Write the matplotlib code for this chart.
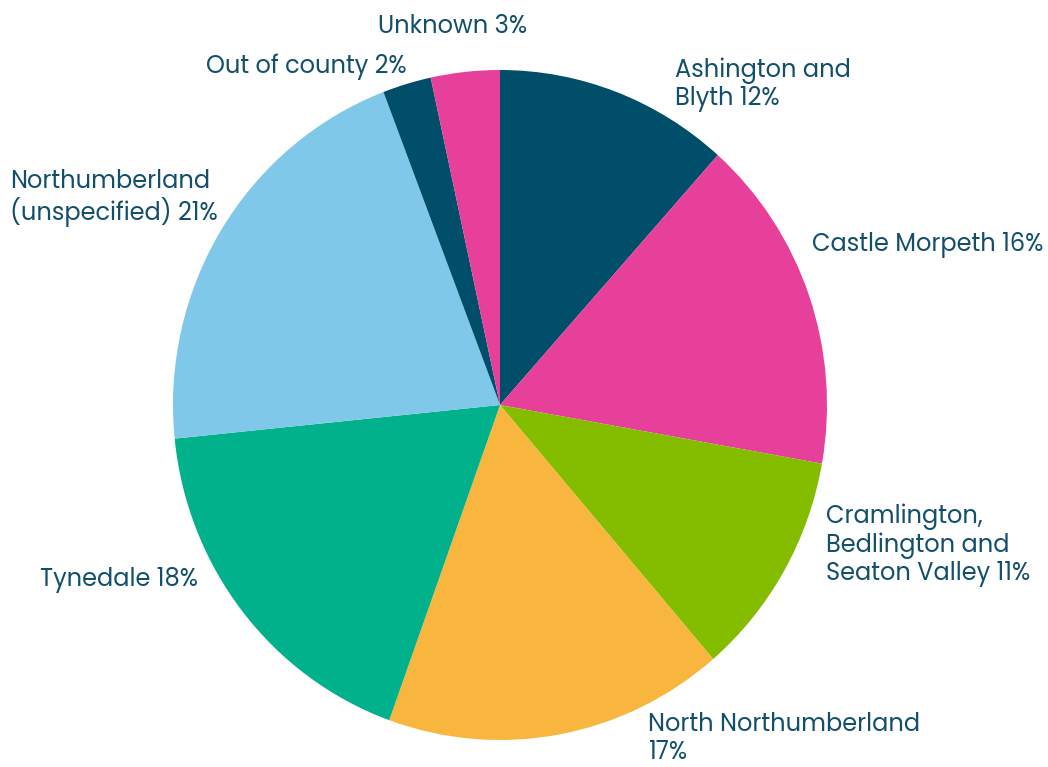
import matplotlib.pyplot as plt

# Share of respondents by area
areas = ["Ashington and\nBlyth", "Castle Morpeth", "Cramlington,\nBedlington and\nSeaton Valley",
         "North Northumberland\n", "Tynedale", "Northumberland\n(unspecified)",
         "Out of county", "Unknown"]
shares = [11.6, 16.2, 10.9, 16.8, 17.9, 20.8, 2.4, 3.4]
shown_pct = [12, 16, 11, 17, 18, 21, 2, 3]

colors = ['#004e6a', '#e6409a', '#84bd00', '#f8b63e',
          '#00b18b', '#80c8ea', '#004e6a', '#e6409a']
text_color = '#124f6c'

# label anchor (in pie radius units) and alignment
label_pos = [(0.535, 0.956, 'left'), (0.955, 0.478, 'left'), (0.997, -0.418, 'left'),
             (0.453, -0.996, 'left'), (-0.924, -0.522, 'right'), (-0.862, 0.618, 'right'),
             (-0.287, 1.009, 'right'), (-0.144, 1.128, 'center')]

W, H = 1048, 767
RX, RY = 327, 335  # pie radius in pixels (reference is slightly taller than wide)
cx, cy = 500, 405

fig = plt.figure(figsize=(W / 100, H / 100), dpi=100, facecolor='white')
ax = fig.add_axes([0, 0, 1, 1])

ax.pie(shares, colors=colors, startangle=90, counterclock=False,
       wedgeprops={'linewidth': 0, 'antialiased': True})

for name, pct, (x, y, ha) in zip(areas, shown_pct, label_pos):
    if name.endswith("\n"):
        txt = f"{name}{pct}%"
    else:
        txt = f"{name} {pct}%"
    ax.text(x, y, txt, ha=ha, va='center', ma='left', color=text_color,
            fontsize=17.3, family=['Poppins', 'Open Sans', 'DejaVu Sans'],
            linespacing=1.12)

ax.set_xlim(-cx / RX, (W - cx) / RX)
ax.set_ylim(-(H - cy) / RY, cy / RY)
ax.set_aspect('auto')
ax.axis('off')

fig.savefig('out.png', dpi=100, facecolor='white')
